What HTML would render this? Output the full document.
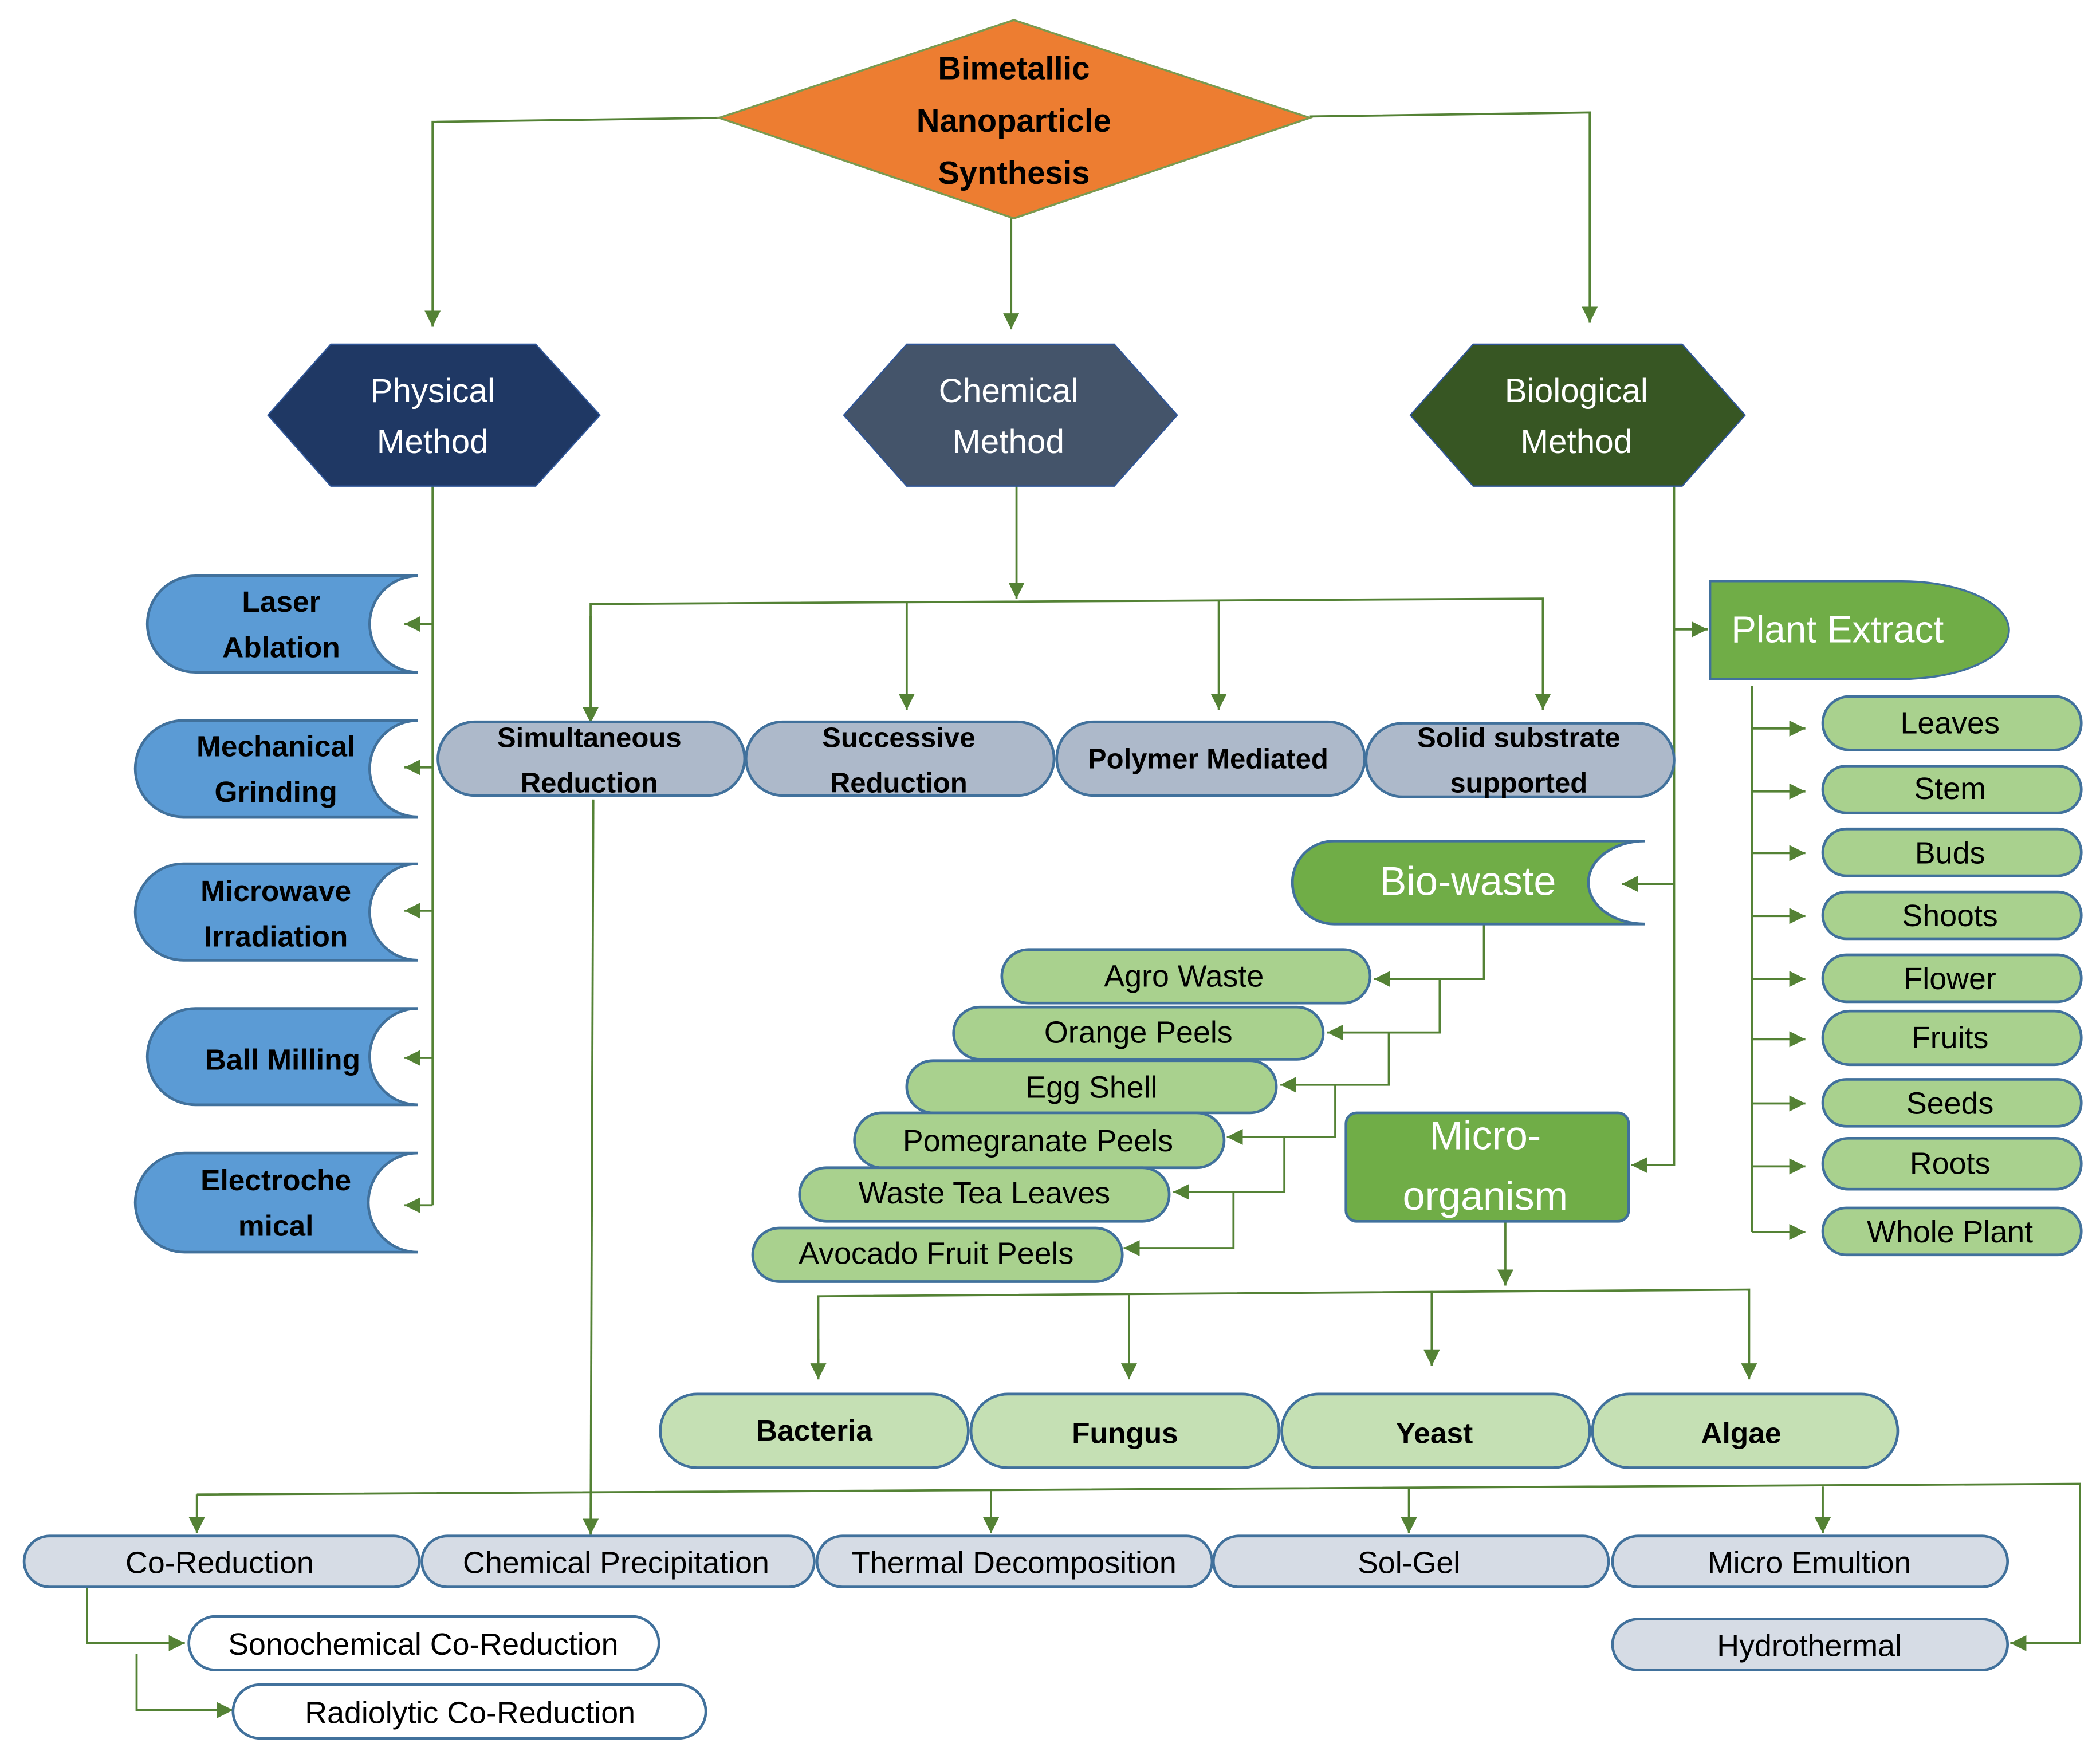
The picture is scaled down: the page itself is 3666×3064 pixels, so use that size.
<!DOCTYPE html>
<html><head><meta charset="utf-8"><style>
html,body{margin:0;padding:0;background:#fff;}
svg{display:block;}
text{font-family:"Liberation Sans Narrow","Liberation Sans",sans-serif;text-anchor:middle;dominant-baseline:central;}
.b{font-weight:bold;}
</style></head><body>
<svg width="3666" height="3064" viewBox="0 0 1568 1310.5" preserveAspectRatio="none" xmlns="http://www.w3.org/2000/svg">
<defs>
<marker id="a" markerUnits="userSpaceOnUse" markerWidth="14" markerHeight="12" refX="12" refY="6" orient="auto"><path d="M0,0 L12,6 L0,12 Z" fill="#548235"/></marker>
</defs>
<g fill="none" stroke="#548235" stroke-width="1.6">
<path d="M537,88 L323,91 L323,244" marker-end="url(#a)"/>
<path d="M755,163 L755,246" marker-end="url(#a)"/>
<path d="M978,87 L1187,84 L1187,241" marker-end="url(#a)"/>
<path d="M323,363 L323,900"/>
<path d="M323,466 L302,466" marker-end="url(#a)"/>
<path d="M323,573 L302,573" marker-end="url(#a)"/>
<path d="M323,680 L302,680" marker-end="url(#a)"/>
<path d="M323,790 L302,790" marker-end="url(#a)"/>
<path d="M323,900 L302,900" marker-end="url(#a)"/>
<path d="M759,363 L759,447" marker-end="url(#a)"/>
<path d="M441,540 L441,451 L1152,447 L1152,530" marker-end="url(#a)"/>
<path d="M441,460 L441,540" marker-end="url(#a)"/>
<path d="M677,449 L677,530" marker-end="url(#a)"/>
<path d="M910,448 L910,530" marker-end="url(#a)"/>
<path d="M443,597 L441,1146" marker-end="url(#a)"/>
<path d="M1250,363 L1250,870 L1218,870" marker-end="url(#a)"/>
<path d="M1250,470 L1275,470" marker-end="url(#a)"/>
<path d="M1250,660 L1211,660" marker-end="url(#a)"/>
<path d="M1308,512 L1308,920"/>
<path d="M1308,544 L1348,544" marker-end="url(#a)"/>
<path d="M1308,591 L1348,591" marker-end="url(#a)"/>
<path d="M1308,637 L1348,637" marker-end="url(#a)"/>
<path d="M1308,684 L1348,684" marker-end="url(#a)"/>
<path d="M1308,731 L1348,731" marker-end="url(#a)"/>
<path d="M1308,776 L1348,776" marker-end="url(#a)"/>
<path d="M1308,824 L1348,824" marker-end="url(#a)"/>
<path d="M1308,871 L1348,871" marker-end="url(#a)"/>
<path d="M1308,920 L1348,920" marker-end="url(#a)"/>
<path d="M1108,690 L1108,731 L1026,731" marker-end="url(#a)"/>
<path d="M1075,731 L1075,771 L991,771" marker-end="url(#a)"/>
<path d="M1037,771 L1037,810 L956,810" marker-end="url(#a)"/>
<path d="M997,810 L997,849 L916,849" marker-end="url(#a)"/>
<path d="M959,849 L959,890 L876,890" marker-end="url(#a)"/>
<path d="M921,890 L921,932 L839,932" marker-end="url(#a)"/>
<path d="M1124,912 L1124,960" marker-end="url(#a)"/>
<path d="M611,1030 L611,968 L1306,963 L1306,1030" marker-end="url(#a)"/>
<path d="M611,1000 L611,1030" marker-end="url(#a)"/>
<path d="M843,966 L843,1030" marker-end="url(#a)"/>
<path d="M1069,964 L1069,1020" marker-end="url(#a)"/>
<path d="M147,1116 L1553,1108 L1553,1227 L1501,1227" marker-end="url(#a)"/>
<path d="M147,1116 L147,1145" marker-end="url(#a)"/>
<path d="M740,1113 L740,1145" marker-end="url(#a)"/>
<path d="M1052,1112 L1052,1145" marker-end="url(#a)"/>
<path d="M1361,1110 L1361,1145" marker-end="url(#a)"/>
<path d="M65,1185 L65,1227 L138,1227" marker-end="url(#a)"/>
<path d="M102,1235 L102,1277 L174,1277" marker-end="url(#a)"/>
</g>

<polygon points="757,15 978,88 757,163 537,88" fill="#ED7D31" stroke="#7a9a50" stroke-width="1.5"/>
<text x="757" y="51" class="b" font-size="24">Bimetallic</text>
<text x="757" y="90" class="b" font-size="24">Nanoparticle</text>
<text x="757" y="129" class="b" font-size="24">Synthesis</text>

<polygon points="200,310 247,257 400,257 448,310 400,363 247,363" fill="#1F3864" stroke="#2F5597"/>
<polygon points="630,310 677,257 832,257 879,310 832,363 677,363" fill="#44546A" stroke="#2F5597"/>
<polygon points="1053,310 1100,257 1256,257 1303,310 1256,363 1100,363" fill="#375623" stroke="#2F5597"/>
<g fill="#fff" font-size="25">
<text x="323" y="292">Physical</text><text x="323" y="330">Method</text>
<text x="753" y="292">Chemical</text><text x="753" y="330">Method</text>
<text x="1177" y="292">Biological</text><text x="1177" y="330">Method</text>
</g>

<g fill="#5B9BD5" stroke="#41719C" stroke-width="2">
<path d="M146,430 L312,430 A36,36 0 0 0 312,502 L146,502 A36,36 0 0 1 146,430 Z"/>
<path d="M137,538 L312,538 A36,36 0 0 0 312,610 L137,610 A36,36 0 0 1 137,538 Z"/>
<path d="M137,645 L312,645 A36,36 0 0 0 312,717 L137,717 A36,36 0 0 1 137,645 Z"/>
<path d="M146,753 L312,753 A36,36 0 0 0 312,825 L146,825 A36,36 0 0 1 146,753 Z"/>
<path d="M138,861 L312,861 A37,37 0 0 0 312,935 L138,935 A37,37 0 0 1 138,861 Z"/>
</g>
<g font-size="22" class="b" fill="#000">
<text x="210" y="449">Laser</text><text x="210" y="483">Ablation</text>
<text x="206" y="557">Mechanical</text><text x="206" y="591">Grinding</text>
<text x="206" y="665">Microwave</text><text x="206" y="699">Irradiation</text>
<text x="211" y="791">Ball Milling</text>
<text x="206" y="881">Electroche</text><text x="206" y="915">mical</text>
</g>

<g fill="#ADB9CA" stroke="#41719C" stroke-width="2">
<rect x="327" y="539" width="229" height="55" rx="27.5"/>
<rect x="557" y="539" width="230" height="55" rx="27.5"/>
<rect x="789" y="539" width="230" height="55" rx="27.5"/>
<rect x="1020" y="540" width="230" height="55" rx="27.5"/>
</g>
<g font-size="21" class="b" fill="#000">
<text x="440" y="551">Simultaneous</text><text x="440" y="585">Reduction</text>
<text x="671" y="551">Successive</text><text x="671" y="585">Reduction</text>
<text x="902" y="567">Polymer Mediated</text>
<text x="1134" y="551">Solid substrate</text><text x="1134" y="585">supported</text>
</g>

<path d="M1277,434 L1420,434 A80,36.5 0 0 1 1420,507 L1277,507 Z" fill="#70AD47" stroke="#41719C" stroke-width="1.5"/>
<text x="1372" y="470" font-size="28" fill="#fff">Plant Extract</text>
<g fill="#A9D18E" stroke="#41719C" stroke-width="2">
<rect x="1361" y="520" width="193" height="40" rx="20"/>
<rect x="1361" y="572" width="193" height="35" rx="17.5"/>
<rect x="1361" y="619" width="193" height="35" rx="17.5"/>
<rect x="1361" y="666" width="193" height="35" rx="17.5"/>
<rect x="1361" y="713" width="193" height="35" rx="17.5"/>
<rect x="1361" y="755" width="193" height="40" rx="20"/>
<rect x="1361" y="806" width="193" height="35" rx="17.5"/>
<rect x="1361" y="850" width="193" height="38" rx="19"/>
<rect x="1361" y="902" width="193" height="35" rx="17.5"/>
</g>
<g font-size="23" fill="#000">
<text x="1456" y="540">Leaves</text>
<text x="1456" y="589">Stem</text>
<text x="1456" y="637">Buds</text>
<text x="1456" y="684">Shoots</text>
<text x="1456" y="731">Flower</text>
<text x="1456" y="775">Fruits</text>
<text x="1456" y="824">Seeds</text>
<text x="1456" y="869">Roots</text>
<text x="1456" y="920">Whole Plant</text>
</g>

<path d="M996,628 L1228,628 A42,31 0 0 0 1228,690 L996,690 A31,31 0 0 1 996,628 Z" fill="#70AD47" stroke="#41719C" stroke-width="2"/>
<text x="1096" y="658" font-size="30" fill="#fff">Bio-waste</text>
<g fill="#A9D18E" stroke="#41719C" stroke-width="2">
<rect x="748" y="709" width="275" height="40" rx="20"/>
<rect x="712" y="752" width="276" height="39" rx="19.5"/>
<rect x="677" y="792" width="276" height="39" rx="19.5"/>
<rect x="638" y="831" width="276" height="41" rx="20.5"/>
<rect x="597" y="872" width="276" height="40" rx="20"/>
<rect x="562" y="917" width="276" height="40" rx="20"/>
</g>
<g font-size="23" fill="#000">
<text x="884" y="729">Agro Waste</text>
<text x="850" y="771">Orange Peels</text>
<text x="815" y="812">Egg Shell</text>
<text x="775" y="852">Pomegranate Peels</text>
<text x="735" y="891">Waste Tea Leaves</text>
<text x="699" y="936">Avocado Fruit Peels</text>
</g>

<rect x="1005" y="831" width="211" height="81" rx="8" fill="#70AD47" stroke="#41719C" stroke-width="2"/>
<text x="1109" y="848" font-size="30" fill="#fff">Micro-</text>
<text x="1109" y="893" font-size="30" fill="#fff">organism</text>
<g fill="#C5E0B4" stroke="#41719C" stroke-width="2">
<rect x="493" y="1041" width="230" height="55" rx="27.5"/>
<rect x="725" y="1041" width="230" height="55" rx="27.5"/>
<rect x="957" y="1041" width="230" height="55" rx="27.5"/>
<rect x="1189" y="1041" width="228" height="55" rx="27.5"/>
</g>
<g font-size="22" class="b" fill="#000">
<text x="608" y="1068">Bacteria</text>
<text x="840" y="1070">Fungus</text>
<text x="1071" y="1070">Yeast</text>
<text x="1300" y="1070">Algae</text>
</g>

<g fill="#D6DCE5" stroke="#41719C" stroke-width="2">
<rect x="18" y="1147" width="295" height="38" rx="19"/>
<rect x="315" y="1147" width="293" height="38" rx="19"/>
<rect x="610" y="1147" width="295" height="38" rx="19"/>
<rect x="906" y="1147" width="295" height="38" rx="19"/>
<rect x="1204" y="1147" width="295" height="38" rx="19"/>
<rect x="1204" y="1209" width="295" height="38" rx="19"/>
</g>
<g fill="#fff" stroke="#41719C" stroke-width="2">
<rect x="141" y="1207" width="351" height="40" rx="20"/>
<rect x="174" y="1258" width="353" height="40" rx="20"/>
</g>
<g font-size="23" fill="#000">
<text x="164" y="1167">Co-Reduction</text>
<text x="460" y="1167">Chemical Precipitation</text>
<text x="757" y="1167">Thermal Decomposition</text>
<text x="1052" y="1167">Sol-Gel</text>
<text x="1351" y="1167">Micro Emultion</text>
<text x="1351" y="1229">Hydrothermal</text>
<text x="316" y="1228">Sonochemical  Co-Reduction</text>
<text x="351" y="1279">Radiolytic Co-Reduction</text>
</g>
</svg>
</body></html>
